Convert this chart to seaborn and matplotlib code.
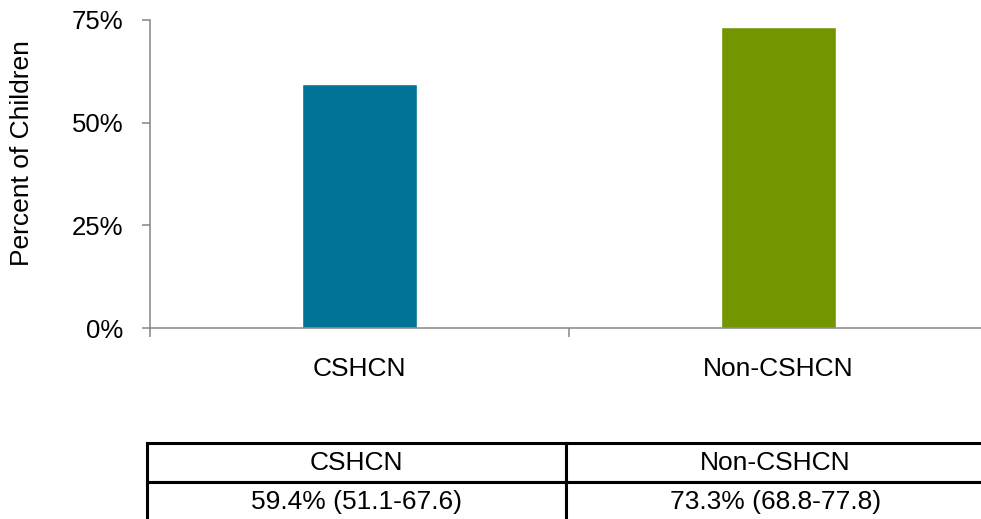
import matplotlib
matplotlib.use("Agg")
import matplotlib.pyplot as plt
import seaborn as sns
import pandas as pd
from matplotlib.ticker import PercentFormatter, FixedLocator

categories = ["CSHCN", "Non-CSHCN"]
values = [59.4, 73.3]
ci_labels = ["59.4% (51.1-67.6)", "73.3% (68.8-77.8)"]
bar_colors = ["#007396", "#739600"]
y_ticks = [0, 25, 50, 75]
y_label = "Percent of Children"

sns.set_theme(style="white")
plt.rcParams["font.family"] = ["Liberation Sans", "DejaVu Sans"]
plt.rcParams["text.color"] = "black"
plt.rcParams["axes.labelcolor"] = "black"
plt.rcParams["xtick.labelcolor"] = "black"
plt.rcParams["ytick.labelcolor"] = "black"

W, H = 981, 519
fig = plt.figure(figsize=(W / 100, H / 100), dpi=100)

# main axes: left spine x=150, right ~988, top y=20, bottom y=328
ax = fig.add_axes([150 / W, 1 - 328 / H, (988 - 150) / W, (328 - 20) / H])

df = pd.DataFrame({"cat": categories, "val": values})
sns.barplot(data=df, x="cat", y="val", hue="cat", palette=bar_colors,
            width=0.275, legend=False, ax=ax, saturation=1)

ax.set_xlim(-0.5, 1.5)
ax.set_ylim(0, 75)
ax.set_yticks(y_ticks)
ax.yaxis.set_major_formatter(PercentFormatter(decimals=0))

spine_c = "#868686"
for s in ["top", "right"]:
    ax.spines[s].set_visible(False)
for s in ["left", "bottom"]:
    ax.spines[s].set_color(spine_c)
    ax.spines[s].set_linewidth(1.1)

ax.tick_params(axis="y", which="major", left=True, length=6, width=1.1,
               color=spine_c, direction="out", pad=13, labelsize=18.5, labelcolor="black")
ax.set_xticks([0, 1])
ax.set_xticklabels(categories)
ax.tick_params(axis="x", which="major", bottom=False, length=0, pad=21,
               labelsize=19, labelcolor="black")
ax.xaxis.set_minor_locator(FixedLocator([-0.5, 0.5, 1.5]))
ax.tick_params(axis="x", which="minor", bottom=True, length=6.5, width=1.1,
               color=spine_c, direction="out")

ax.set_xlabel("")
ax.set_ylabel(y_label, fontsize=19, color="black")
ax.yaxis.label.set_va("center")
ax.yaxis.set_label_coords((22 - 150) / (988 - 150), (328 - 153) / (328 - 20))

# data table below
tax = fig.add_axes([147 / W, 1 - 521 / H, (985 - 147) / W, (521 - 443) / H])
tax.axis("off")
tbl = tax.table(cellText=[ci_labels], colLabels=categories,
                cellLoc="center", bbox=[0, 0, 1, 1])
tbl.auto_set_font_size(False)
tbl.set_fontsize(19)
for (r, c), cell in tbl.get_celld().items():
    cell.set_edgecolor("black")
    cell.set_linewidth(2.2)
    cell.set_facecolor("white")
    cell.get_text().set_color("black")

fig.savefig("out.png", dpi=100)
